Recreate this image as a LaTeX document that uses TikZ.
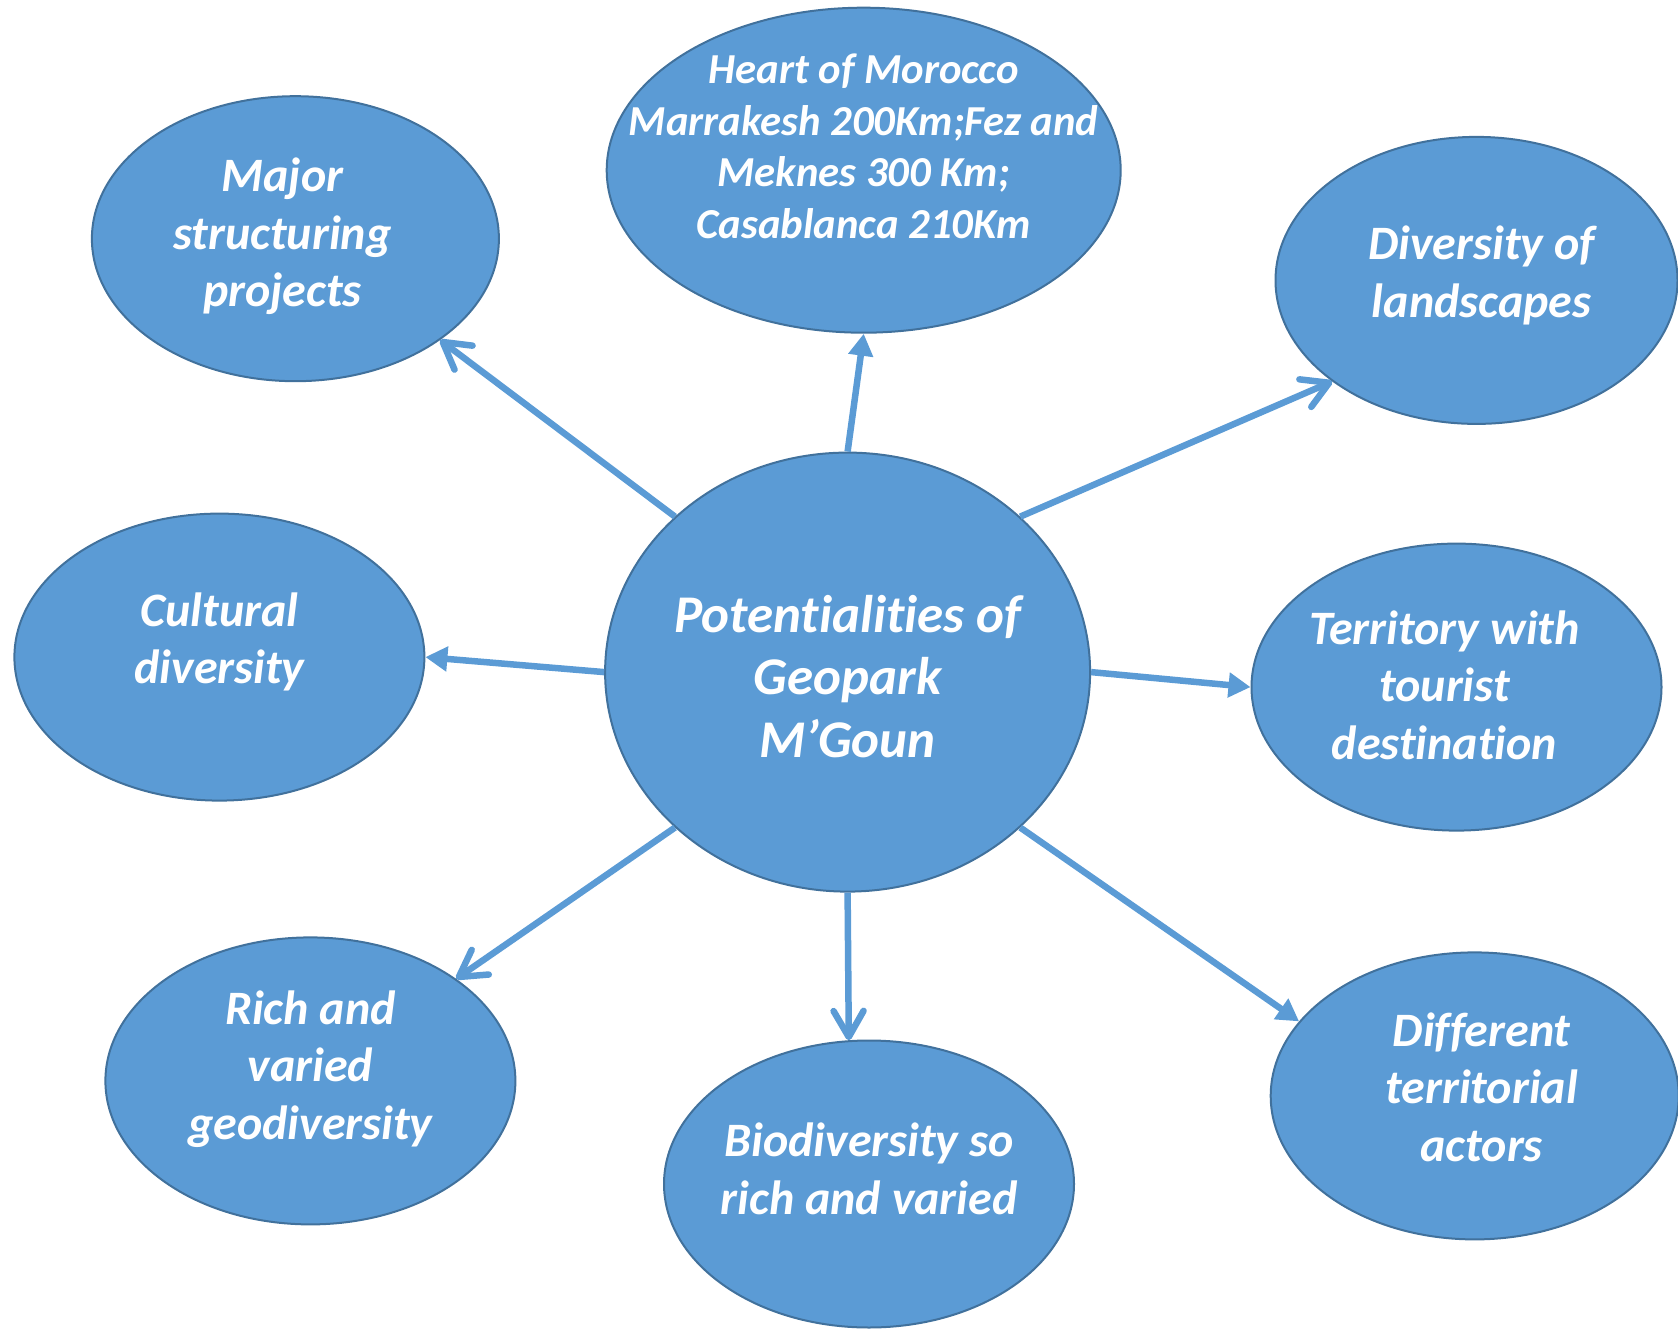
\documentclass[tikz,border=0pt]{standalone}
\usepackage{fontspec}
\setmainfont{Carlito}[Ligatures=NoCommon]
\usetikzlibrary{arrows.meta,shapes.geometric}
\definecolor{blobfill}{HTML}{5B9BD5}
\definecolor{blobline}{HTML}{41719C}
\tikzset{
  blob/.style={ellipse, draw=blobline, line width=2pt, fill=blobfill, inner sep=0pt},
  smallblob/.style={blob, minimum width=410pt, minimum height=287pt},
  blobtext/.style={align=center, text=white, inner sep=0pt, font=\bfseries\itshape\fontsize{48}{57.5}\selectfont},
  hubtext/.style={blobtext, font=\bfseries\itshape\fontsize{53}{62.5}\selectfont},
  hearttext/.style={blobtext, font=\bfseries\itshape\fontsize{42.7}{51.5}\selectfont},
  link/.style={draw=blobfill, line width=6.5pt},
  headtri/.style={link, -{Triangle[length=22pt,width=24pt]}},
  headvee/.style={link, -{Straight Barb[length=26pt,width=30pt,round]}}
}
\begin{document}
\begin{tikzpicture}[x=1pt,y=-1pt]
  \useasboundingbox (0,0) rectangle (1678,1329);

  % the ellipses
  \node[blob, minimum width=485pt, minimum height=439pt] (hub) at (847.6,672.1) {};
  \node[blob, minimum width=514pt, minimum height=325pt] (heart) at (863.7,170.2) {};
  \node[blob, minimum width=407pt, minimum height=285pt] (major) at (295.4,238.7) {};
  \node[blob, minimum width=402pt, minimum height=287pt] (land) at (1476.5,280.4) {};
  \node[smallblob] (cult) at (219.4,657.1) {};
  \node[smallblob] (terr) at (1456.5,687.1) {};
  \node[smallblob] (rich) at (310.4,1080.9) {};
  \node[smallblob] (bio) at (869,1184) {};
  \node[smallblob, minimum width=408pt] (diff) at (1474.7,1095.9) {};

  % the texts
  \node[hubtext] (hub-t) at ([yshift=-4pt]hub.center) {Potentialities of\\Geopark\\M’Goun};
  \node[hearttext] (heart-t) at ([yshift=24pt]heart.center) {Heart of Morocco\\Marrakesh 200Km;Fez and\\Meknes 300 Km;\\Casablanca 210Km};
  \node[blobtext] (major-t) at ([xshift=-13pt,yshift=2pt]major.center) {Major\\structuring\\projects};
  \node[blobtext] (land-t) at ([xshift=5pt,yshift=5pt]land.center) {Diversity of\\landscapes};
  \node[blobtext] (cult-t) at ([yshift=15pt]cult.center) {Cultural\\diversity};
  \node[blobtext] (terr-t) at ([xshift=-12pt,yshift=2pt]terr.center) {Territory with\\tourist\\destination};
  \node[blobtext] (rich-t) at ([yshift=12pt]rich.center) {Rich and\\varied\\geodiversity};
  \node[blobtext] (bio-t) at ([yshift=15pt]bio.center) {Biodiversity so\\rich and varied};
  \node[blobtext] (diff-t) at ([xshift=7pt,yshift=9pt]diff.center) {Different\\territorial\\actors};

  % the arrows
  \draw[headtri] (hub.90) -- (heart.270);
  \draw[headvee] (hub.138) -- (major.-35);
  \draw[headvee] (hub.42) -- (land.215);
  \draw[headtri] (hub.180) -- (cult.0);
  \draw[headtri] (hub.0) -- (terr.180);
  \draw[headvee] (hub.222) -- (rich.35);
  \draw[headvee] (hub.270) -- (bio.98);
  \draw[headtri] (hub.318) -- (diff.157);
\end{tikzpicture}
\end{document}
